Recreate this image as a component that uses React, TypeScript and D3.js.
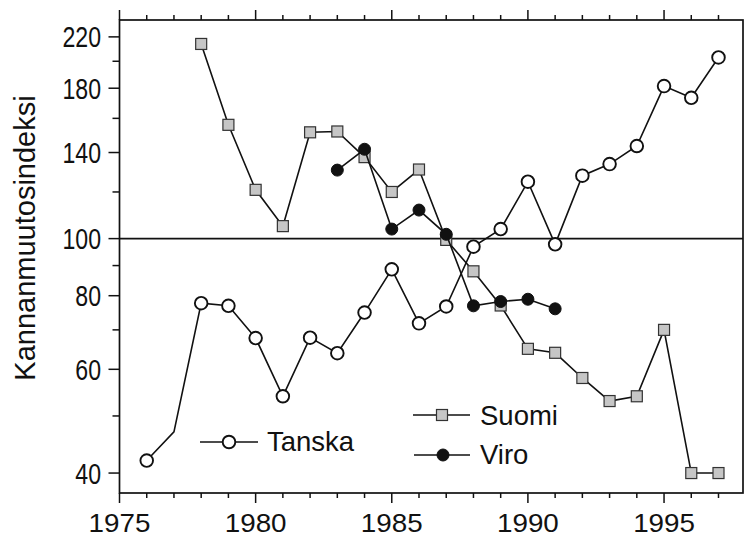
import React, { useEffect, useRef } from 'react';
import * as d3 from 'd3';

// vuodet ja indeksit
const suomiYears = [1978, 1979, 1980, 1981, 1982, 1983, 1984, 1985, 1986, 1987, 1988, 1989, 1990, 1991, 1992, 1993, 1994, 1995, 1996, 1997];
const suomiValues = [214, 156, 121, 105, 151.5, 152, 137.5, 120, 131, 99.5, 88, 77, 65, 64, 58, 53, 54, 70, 40, 40];

const tanskaYears = [1976, 1977, 1978, 1979, 1980, 1981, 1982, 1983, 1984, 1985, 1986, 1987, 1988, 1989, 1990, 1991, 1992, 1993, 1994, 1995, 1996, 1997];
const tanskaValues = [42, 47, 77.7, 76.9, 67.8, 54, 67.9, 63.9, 74.9, 88.7, 71.8, 76.7, 96.9, 103.8, 124.9, 97.8, 127.9, 133.8, 143.6, 181.5, 173.4, 203];
const tanskaNoMarker = [1977];

const viroYears = [1983, 1984, 1985, 1986, 1987, 1988, 1989, 1990, 1991];
const viroValues = [130.7, 141.8, 103.8, 111.8, 101.7, 76.9, 78.2, 78.9, 76];

const yMajor = [40, 60, 80, 100, 140, 180, 220];
const yMinor = [50, 70, 90, 120, 160, 200];
const xMajor = [1975, 1980, 1985, 1990, 1995];
const xMinor = d3.range(1976, 1998).filter(y => y % 5 !== 0);

const yTitle = 'Kannanmuutosindeksi';

function App() {
	const ref = useRef<SVGSVGElement>(null);

	useEffect(() => {
		const w = 747;
		const h = 538;
		const left = 119.5, right = 743, top = 20, bottom = 493;
		const svg = d3.select(ref.current);
		svg.selectAll('*').remove();
		svg.attr('width', w).attr('height', h);

		const x = d3.scaleLinear().domain([1975, 1997.9]).range([left, right]);
		const y = d3.scaleLog().domain([37, 235]).range([bottom, top]);

		const font = 'Liberation Sans, Arial, sans-serif';
		const g = svg.append('g');

		// kehys
		g.append('rect')
			.attr('x', left).attr('y', top)
			.attr('width', right - left).attr('height', bottom - top)
			.attr('fill', 'none').attr('stroke', '#111').attr('stroke-width', 1.7);

		// 100-viiva
		g.append('line')
			.attr('x1', left).attr('x2', right)
			.attr('y1', y(100)).attr('y2', y(100))
			.attr('stroke', '#111').attr('stroke-width', 1.6);

		// x-akselin tikit (ala ja yla)
		const ticks = g.append('g').attr('stroke', '#111').attr('stroke-width', 1.5);
		xMajor.forEach(d => {
			ticks.append('line').attr('x1', x(d)).attr('x2', x(d)).attr('y1', bottom).attr('y2', bottom + 10);
			ticks.append('line').attr('x1', x(d)).attr('x2', x(d)).attr('y1', top).attr('y2', top - 10);
		});
		xMinor.forEach(d => {
			ticks.append('line').attr('x1', x(d)).attr('x2', x(d)).attr('y1', bottom).attr('y2', bottom + 5);
			ticks.append('line').attr('x1', x(d)).attr('x2', x(d)).attr('y1', top).attr('y2', top - 5);
		});
		yMajor.forEach(d => {
			ticks.append('line').attr('x1', left).attr('x2', left - 11).attr('y1', y(d)).attr('y2', y(d));
		});
		yMinor.forEach(d => {
			ticks.append('line').attr('x1', left).attr('x2', left - 7).attr('y1', y(d)).attr('y2', y(d));
		});

		// tikkien tekstit
		g.selectAll('.xl')
			.data(xMajor)
			.join('text')
			.attr('transform', d => `translate(${x(d)},${bottom + 38.5}) scale(1.07,1)`)
			.attr('text-anchor', 'middle')
			.attr('font-family', font)
			.attr('font-size', 26)
			.attr('fill', '#111')
			.text(d => d);

		g.selectAll('.yl')
			.data(yMajor)
			.join('text')
			.attr('transform', d => `translate(101,${y(d) + 10.5}) scale(0.77,1)`)
			.attr('text-anchor', 'end')
			.attr('font-family', font)
			.attr('font-size', 30)
			.attr('fill', '#111')
			.text(d => d);

		g.append('text')
			.attr('transform', 'translate(35,238) rotate(-90)')
			.attr('text-anchor', 'middle')
			.attr('font-family', font)
			.attr('font-size', 29)
			.attr('fill', '#111')
			.text(yTitle);

		const line = d3.line<[number, number]>()
			.x(d => x(d[0]))
			.y(d => y(d[1]));

		const drawSquare = (sel: any, cx: number, cy: number) => {
			sel.append('rect')
				.attr('x', cx - 5.5).attr('y', cy - 5.5)
				.attr('width', 11).attr('height', 11)
				.attr('fill', '#c6c6c6').attr('stroke', '#333').attr('stroke-width', 1.2);
		};
		const drawCircle = (sel: any, cx: number, cy: number, filled: boolean) => {
			sel.append('circle')
				.attr('cx', cx).attr('cy', cy).attr('r', filled ? 6 : 6.3)
				.attr('fill', filled ? '#111' : '#fff')
				.attr('stroke', '#111').attr('stroke-width', filled ? 1 : 1.9);
		};

		// Suomi
		const suomi = suomiYears.map((yr, i) => [yr, suomiValues[i]] as [number, number]);
		g.append('path').attr('d', line(suomi)).attr('fill', 'none').attr('stroke', '#111').attr('stroke-width', 1.6);
		suomi.forEach(d => drawSquare(g, x(d[0]), y(d[1])));

		// Tanska
		const tanska = tanskaYears.map((yr, i) => [yr, tanskaValues[i]] as [number, number]);
		g.append('path').attr('d', line(tanska)).attr('fill', 'none').attr('stroke', '#111').attr('stroke-width', 1.6);
		tanska.filter(d => !tanskaNoMarker.includes(d[0])).forEach(d => drawCircle(g, x(d[0]), y(d[1]), false));

		// Viro
		const viro = viroYears.map((yr, i) => [yr, viroValues[i]] as [number, number]);
		g.append('path').attr('d', line(viro)).attr('fill', 'none').attr('stroke', '#111').attr('stroke-width', 1.6);
		viro.forEach(d => drawCircle(g, x(d[0]), y(d[1]), true));

		// selite
		const leg = g.append('g');
		const legLine = (x1: number, x2: number, ly: number) => {
			leg.append('line').attr('x1', x1).attr('x2', x2).attr('y1', ly).attr('y2', ly)
				.attr('stroke', '#111').attr('stroke-width', 1.5);
		};
		const legText = (tx: number, ty: number, t: string) => {
			leg.append('text').attr('x', tx).attr('y', ty)
				.attr('font-family', font).attr('font-size', 27.5).attr('fill', '#111').text(t);
		};
		legLine(200, 258, 442);
		drawCircle(leg, 229, 442, false);
		legText(267, 451, 'Tanska');

		legLine(413, 470, 415);
		drawSquare(leg, 442, 415);
		legText(480, 425, 'Suomi');

		legLine(414, 470, 455);
		drawCircle(leg, 443, 455, true);
		legText(480, 464, 'Viro');
	}, []);

	return (
		<div>
			<svg ref={ref} style={{ position: 'absolute', left: 0, top: 0 }} />
		</div>
	);
}

export default App;
